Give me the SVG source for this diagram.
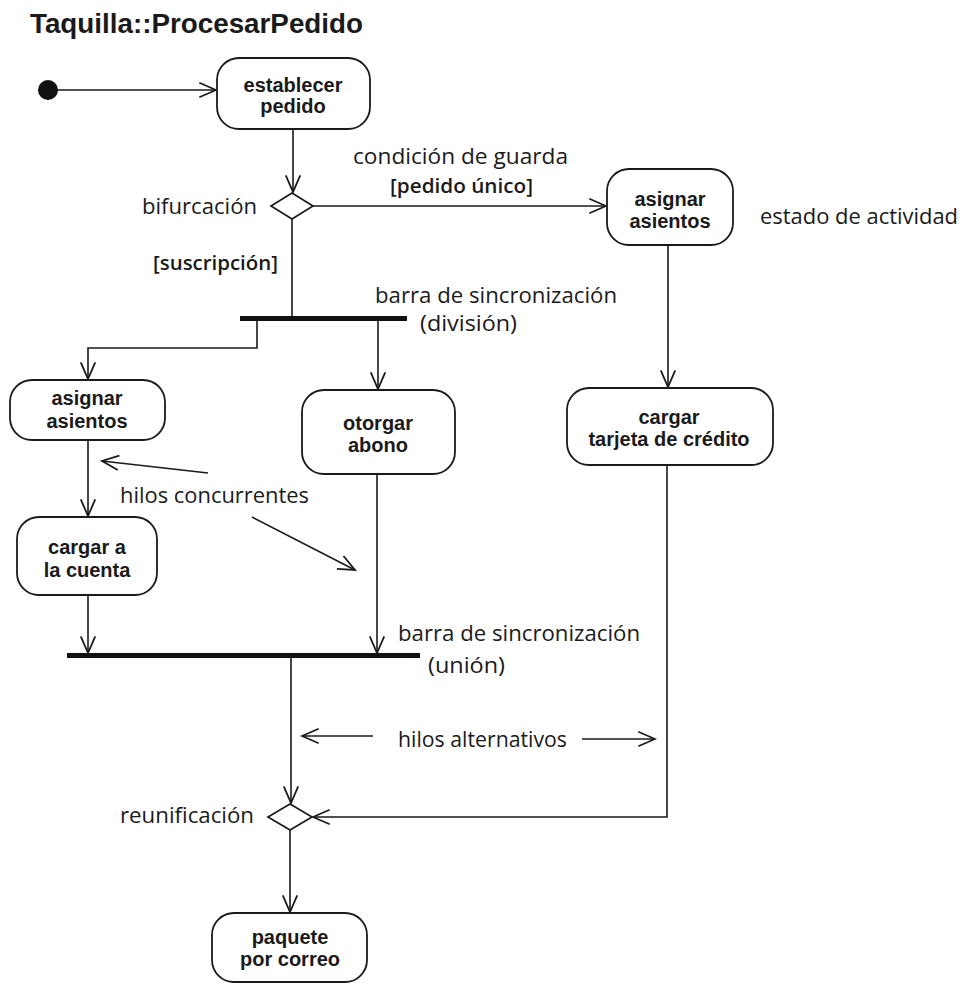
<svg xmlns="http://www.w3.org/2000/svg" width="970" height="984" viewBox="0 0 970 984">
  <defs>
    <marker id="open" markerUnits="userSpaceOnUse" markerWidth="20" markerHeight="20" viewBox="-16 -8 18 16" refX="0" refY="0" orient="auto">
      <path d="M-15,-6.5 L0,0 L-15,6.5" fill="none" stroke="#1a1a1a" stroke-width="1.6"/>
    </marker>
    <style>
      .bg { fill: #ffffff; }
      .act { fill: #ffffff; stroke: #1a1a1a; stroke-width: 1.8; }
      .dia { fill: #ffffff; stroke: #1a1a1a; stroke-width: 1.7; }
      .bar { fill: #111111; }
      .edge { fill: none; stroke: #1a1a1a; stroke-width: 1.6; }
      .arr { marker-end: url(#open); }
      .title { font-family: "Liberation Sans", Arial, sans-serif; font-weight: bold; font-size: 27px; fill: #1a1a1a; }
      .nt { font-family: "Liberation Sans", Arial, sans-serif; font-weight: bold; font-size: 20px; fill: #1a1a1a; text-anchor: middle; }
      .lb { font-family: "Open Sans", "DejaVu Sans", sans-serif; font-size: 21px; fill: #1a1a1a; }
      .gd { font-family: "Open Sans", "DejaVu Sans", sans-serif; font-size: 20px; font-weight: 600; fill: #1a1a1a; }
    </style>
  </defs>

  <rect class="bg" x="0" y="0" width="970" height="984"/>

  <text class="title" x="30" y="33" textLength="333" lengthAdjust="spacingAndGlyphs">Taquilla::ProcesarPedido</text>

  <!-- flow lines -->
  <g id="connectors">
    <path class="edge arr" d="M48,90 H216"/>
    <path class="edge arr" d="M293,129 V192"/>
    <path class="edge arr" d="M313,206 H606"/>
    <path class="edge" d="M292,219 V318"/>
    <path class="edge arr" d="M257,321 V348 H88 V379"/>
    <path class="edge arr" d="M378,321 V389"/>
    <path class="edge arr" d="M88,440 V516"/>
    <path class="edge arr" d="M88,595 V653"/>
    <path class="edge arr" d="M377,474 V653"/>
    <path class="edge arr" d="M291,658 V803"/>
    <path class="edge arr" d="M668,245 V387"/>
    <path class="edge arr" d="M667,465 V817 H313"/>
    <path class="edge arr" d="M290,829 V912"/>
    <!-- annotation pointers -->
    <path class="edge arr" d="M208,473 L102,461"/>
    <path class="edge arr" d="M252,517 L355,570"/>
    <path class="edge arr" d="M373,736 H302"/>
    <path class="edge arr" d="M582,739 H655"/>
  </g>

  <g id="inicio">
    <circle cx="48" cy="90" r="10" fill="#111111"/>
  </g>

  <g id="establecer-pedido">
    <rect class="act" x="217" y="58" width="153" height="71" rx="22"/>
    <text class="nt" x="293" y="92">establecer</text>
    <text class="nt" x="293" y="113">pedido</text>
  </g>

  <g id="bifurcacion">
    <polygon class="dia" points="292,193 313,206 292,219 271,206"/>
    <text class="lb" x="142" y="214" textLength="115" lengthAdjust="spacingAndGlyphs">bifurcación</text>
  </g>

  <g id="guarda-labels">
    <text class="lb" x="353" y="164" textLength="215" lengthAdjust="spacingAndGlyphs">condición de guarda</text>
    <text class="gd" x="390" y="193" textLength="143" lengthAdjust="spacingAndGlyphs">[pedido único]</text>
    <text class="gd" x="153" y="270" textLength="125" lengthAdjust="spacingAndGlyphs">[suscripción]</text>
  </g>

  <g id="asignar-asientos-unico">
    <rect class="act" x="607" y="169" width="126" height="76" rx="22"/>
    <text class="nt" x="670" y="206">asignar</text>
    <text class="nt" x="670" y="228">asientos</text>
    <text class="lb" x="760" y="224" textLength="198" lengthAdjust="spacingAndGlyphs">estado de actividad</text>
  </g>

  <g id="barra-division">
    <rect class="bar" x="240" y="316" width="167" height="5"/>
    <text class="lb" x="375" y="303" textLength="242" lengthAdjust="spacingAndGlyphs">barra de sincronización</text>
    <text class="lb" x="420" y="331" textLength="97" lengthAdjust="spacingAndGlyphs">(división)</text>
  </g>

  <g id="asignar-asientos-suscripcion">
    <rect class="act" x="10" y="380" width="155" height="60" rx="22"/>
    <text class="nt" x="87" y="405">asignar</text>
    <text class="nt" x="87" y="428">asientos</text>
  </g>

  <g id="otorgar-abono">
    <rect class="act" x="302" y="390" width="153" height="84" rx="22"/>
    <text class="nt" x="378" y="430">otorgar</text>
    <text class="nt" x="378" y="452">abono</text>
  </g>

  <g id="cargar-tarjeta">
    <rect class="act" x="567" y="388" width="206" height="77" rx="22"/>
    <text class="nt" x="669" y="424">cargar</text>
    <text class="nt" x="669" y="446">tarjeta de crédito</text>
  </g>

  <g id="hilos-concurrentes">
    <text class="lb" x="120" y="503" textLength="189" lengthAdjust="spacingAndGlyphs">hilos concurrentes</text>
  </g>

  <g id="cargar-cuenta">
    <rect class="act" x="17" y="517" width="140" height="78" rx="22"/>
    <text class="nt" x="87" y="554">cargar a</text>
    <text class="nt" x="87" y="577">la cuenta</text>
  </g>

  <g id="barra-union">
    <rect class="bar" x="67" y="653" width="353" height="5"/>
    <text class="lb" x="398" y="641" textLength="242" lengthAdjust="spacingAndGlyphs">barra de sincronización</text>
    <text class="lb" x="428" y="673" textLength="77" lengthAdjust="spacingAndGlyphs">(unión)</text>
  </g>

  <g id="hilos-alternativos">
    <text class="lb" x="398" y="747" textLength="169" lengthAdjust="spacingAndGlyphs">hilos alternativos</text>
  </g>

  <g id="reunificacion">
    <polygon class="dia" points="290,804 312,817 290,830 268,817"/>
    <text class="lb" x="120" y="823" textLength="134" lengthAdjust="spacingAndGlyphs">reunificación</text>
  </g>

  <g id="paquete-correo">
    <rect class="act" x="212" y="913" width="155" height="69" rx="22"/>
    <text class="nt" x="290" y="944">paquete</text>
    <text class="nt" x="290" y="966">por correo</text>
  </g>
</svg>
